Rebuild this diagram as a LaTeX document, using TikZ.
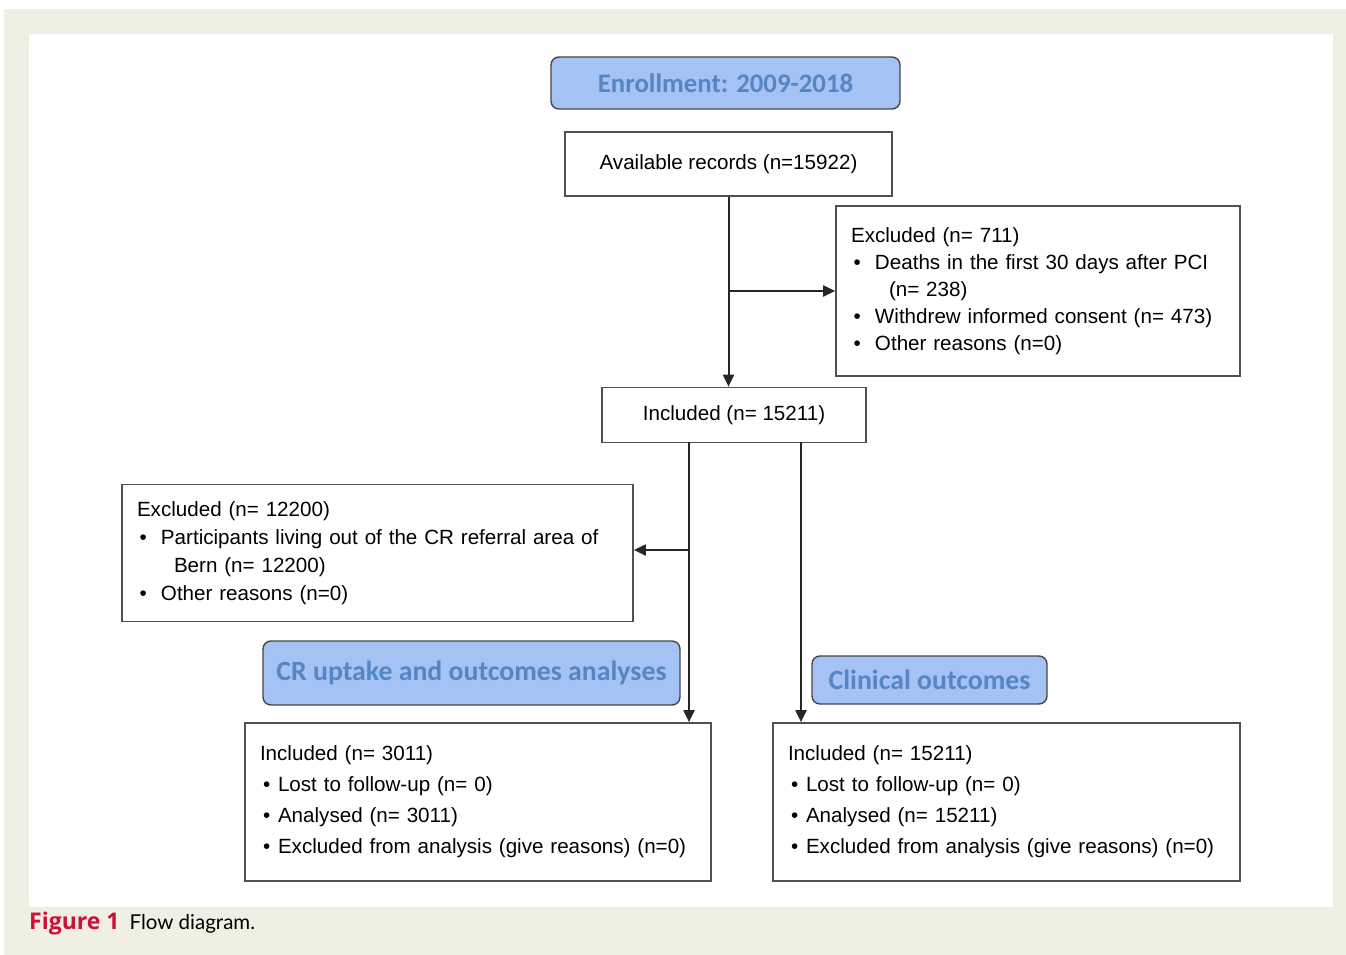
\documentclass[tikz,border=0pt]{standalone}
\usepackage{fontspec}
\setmainfont{Liberation Sans}
\newfontfamily\hdrfont{Carlito}
\newfontfamily\capfontfam{Lato}
\newfontfamily\figfont{Open Sans}
\usetikzlibrary{arrows.meta}
\definecolor{beige}{RGB}{240,239,228}
\definecolor{boxgray}{RGB}{80,80,80}
\definecolor{hdrfill}{RGB}{164,194,244}
\definecolor{hdrtext}{RGB}{84,134,196}
\definecolor{hdrline}{RGB}{70,70,70}
\definecolor{figred}{RGB}{204,16,56}
\newcommand{\bitemA}[1]{\makebox[24pt][l]{\hspace{2.5pt}\textbullet}#1}
\newcommand{\bitemB}[1]{\makebox[18pt][l]{\hspace{3pt}\textbullet}#1}
\begin{document}
\begin{tikzpicture}[x=1pt,y=-1pt,
  box/.style={draw=boxgray, line width=1.7pt, fill=white, inner ysep=0pt, inner xsep=15pt, align=left, font=\fontsize{20.6}{27}\selectfont},
  hdr/.style={draw=hdrline, line width=1.4pt, fill=hdrfill, rounded corners=8pt, text=hdrtext, font=\hdrfont\bfseries\fontsize{26.8}{30}\selectfont, inner sep=0pt},
  arr/.style={draw=black!85, line width=2pt, -{Triangle[length=12pt,width=11pt]}}]
\useasboundingbox (0,0) rectangle (1346,955);
\fill[beige] (4,9) rectangle (1346,955);
\fill[white] (29,34) rectangle (1333,907);

% headers
\node[hdr, minimum width=349pt, minimum height=52pt] (enr) at (725.5,83) {Enrollment: 2009-2018};
\node[hdr, minimum width=417pt, minimum height=64pt, font=\hdrfont\bfseries\fontsize{27.8}{30}\selectfont] (hcr) at (471.5,673) {CR uptake and outcomes analyses};
\node[hdr, minimum width=235pt, minimum height=48pt, font=\hdrfont\bfseries\fontsize{27.8}{30}\selectfont] (hcl) at (929.5,680) {Clinical outcomes};

% boxes
\node[box, minimum width=327pt, minimum height=64pt, align=center] (avail) at (728.5,164) {Available records (n=15922)};
\node[box, minimum width=404pt, minimum height=170pt, text width=374pt] (exc1) at (1038,291)
 {Excluded (n= 711)\\
  \bitemA{Deaths in the first 30 days after PCI}\\
  \hspace*{38pt}(n= 238)\\
  \bitemA{Withdrew informed consent (n= 473)}\\
  \bitemA{Other reasons (n=0)}};
\node[box, minimum width=264pt, minimum height=55pt, align=center] (incl) at (734,415) {Included (n= 15211)};
\node[box, minimum width=511pt, minimum height=137pt, text width=481pt, font=\fontsize{20.6}{28}\selectfont] (exc2) at (377.5,553)
 {Excluded (n= 12200)\\
  \bitemA{Participants living out of the CR referral area of}\\
  \hspace*{37pt}Bern (n= 12200)\\
  \bitemA{Other reasons (n=0)}};
\node[box, minimum width=466pt, minimum height=158pt, text width=436pt, font=\fontsize{20.6}{31}\selectfont] (bl) at (478,802)
 {Included (n= 3011)\\
  \bitemB{Lost to follow-up (n= 0)}\\
  \bitemB{Analysed (n= 3011)}\\
  \bitemB{Excluded from analysis (give reasons) (n=0)}};
\node[box, minimum width=467pt, minimum height=158pt, text width=437pt, font=\fontsize{20.6}{31}\selectfont] (br) at (1006.5,802)
 {Included (n= 15211)\\
  \bitemB{Lost to follow-up (n= 0)}\\
  \bitemB{Analysed (n= 15211)}\\
  \bitemB{Excluded from analysis (give reasons) (n=0)}};

% connectors
\draw[arr] (avail.south) -- (avail.south |- incl.north);
\draw[arr] (avail.south |- exc1.west) -- (exc1.west);
\coordinate (s1) at (689,442);
\coordinate (s2) at (801,442);
\draw[arr] (s1) -- (s1 |- bl.north);
\draw[arr] (s2) -- (s2 |- br.north);
\draw[arr] (s1 |- 0,550) -- (exc2.east |- 0,550);

% caption
\node[anchor=west, inner sep=0pt, font=\capfontfam\fontsize{20.5}{24}\selectfont] (cap) at (29,924)
 {\textcolor{figred}{\figfont\bfseries\fontsize{23}{24}\selectfont Figure 1}\hspace{10pt}Flow diagram.};
\end{tikzpicture}
\end{document}
